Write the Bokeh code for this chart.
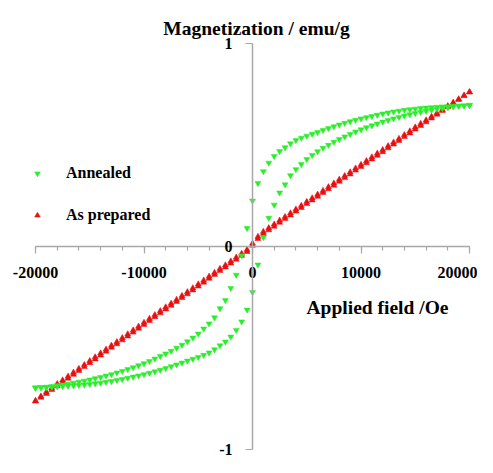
from bokeh.plotting import figure
from bokeh.models import Range1d, FixedTicker, Label, Legend, LegendItem, ColumnDataSource
from bokeh.embed import file_html
from bokeh.resources import INLINE

# ---------------- data ----------------
field_oe = [-20000, -19500, -19000, -18500, -18000, -17500, -17000, -16500, -16000, -15500,
            -15000, -14500, -14000, -13500, -13000, -12500, -12000, -11500, -11000, -10500,
            -10000, -9500, -9000, -8500, -8000, -7500, -7000, -6500, -6000, -5500,
            -5000, -4500, -4000, -3500, -3000, -2500, -2000, -1500, -1000, -500,
            0, 500, 1000, 1500, 2000, 2500, 3000, 3500, 4000, 4500,
            5000, 5500, 6000, 6500, 7000, 7500, 8000, 8500, 9000, 9500,
            10000, 10500, 11000, 11500, 12000, 12500, 13000, 13500, 14000, 14500,
            15000, 15500, 16000, 16500, 17000, 17500, 18000, 18500, 19000, 19500, 20000]

# Annealed: branch coming down from +20000 Oe
annealed_down = [-0.697, -0.694, -0.692, -0.689, -0.685, -0.681, -0.677, -0.672, -0.667, -0.662,
                 -0.656, -0.650, -0.644, -0.637, -0.630, -0.622, -0.614, -0.605, -0.596, -0.586,
                 -0.576, -0.565, -0.553, -0.541, -0.528, -0.515, -0.500, -0.485, -0.468, -0.450,
                 -0.430, -0.405, -0.380, -0.350, -0.305, -0.265, -0.205, -0.140, -0.045, 0.090,
                 0.225, 0.312, 0.370, 0.412, 0.445, 0.469, 0.488, 0.507, 0.523, 0.535,
                 0.545, 0.554, 0.563, 0.573, 0.582, 0.591, 0.600, 0.608, 0.616, 0.623,
                 0.630, 0.636, 0.642, 0.648, 0.654, 0.659, 0.664, 0.668, 0.672, 0.675,
                 0.678, 0.681, 0.683, 0.685, 0.687, 0.689, 0.690, 0.692, 0.693, 0.694, 0.695]

# Annealed: branch going up from -20000 Oe
annealed_up = [-0.695, -0.694, -0.693, -0.692, -0.690, -0.689, -0.687, -0.685, -0.683, -0.681,
               -0.678, -0.675, -0.672, -0.668, -0.664, -0.659, -0.654, -0.648, -0.642, -0.636,
               -0.630, -0.623, -0.616, -0.608, -0.600, -0.591, -0.582, -0.573, -0.563, -0.554,
               -0.545, -0.535, -0.523, -0.507, -0.488, -0.469, -0.445, -0.412, -0.370, -0.312,
               -0.225, -0.090, 0.045, 0.140, 0.205, 0.265, 0.305, 0.350, 0.380, 0.405,
               0.430, 0.450, 0.468, 0.485, 0.500, 0.515, 0.528, 0.541, 0.553, 0.565,
               0.576, 0.586, 0.596, 0.605, 0.614, 0.622, 0.630, 0.637, 0.644, 0.650,
               0.656, 0.662, 0.667, 0.672, 0.677, 0.681, 0.685, 0.689, 0.692, 0.694, 0.697]

# As prepared: two nearly overlapping branches
prepared_up = [-0.763, -0.744, -0.725, -0.706, -0.687, -0.669, -0.650, -0.631, -0.612, -0.593,
               -0.574, -0.555, -0.536, -0.517, -0.498, -0.480, -0.461, -0.442, -0.423, -0.404,
               -0.385, -0.366, -0.347, -0.328, -0.309, -0.291, -0.272, -0.253, -0.234, -0.215,
               -0.196, -0.177, -0.158, -0.139, -0.120, -0.102, -0.083, -0.064, -0.045, -0.026,
               0.005, 0.038, 0.063, 0.081, 0.099, 0.118, 0.136, 0.154, 0.173, 0.191,
               0.210, 0.228, 0.246, 0.265, 0.283, 0.301, 0.320, 0.338, 0.356, 0.375,
               0.393, 0.411, 0.430, 0.448, 0.466, 0.485, 0.503, 0.521, 0.540, 0.558,
               0.577, 0.595, 0.613, 0.632, 0.650, 0.668, 0.687, 0.705, 0.723, 0.742, 0.760]

prepared_down = [-0.760, -0.738, -0.717, -0.697, -0.677, -0.659, -0.640, -0.621, -0.602, -0.583,
                 -0.564, -0.545, -0.526, -0.507, -0.488, -0.470, -0.451, -0.432, -0.413, -0.394,
                 -0.375, -0.356, -0.337, -0.318, -0.299, -0.281, -0.262, -0.243, -0.224, -0.205,
                 -0.186, -0.167, -0.148, -0.129, -0.110, -0.092, -0.073, -0.054, -0.035, -0.016,
                 0.015, 0.048, 0.073, 0.091, 0.109, 0.128, 0.146, 0.164, 0.183, 0.201,
                 0.220, 0.238, 0.256, 0.275, 0.293, 0.311, 0.330, 0.348, 0.366, 0.385,
                 0.403, 0.421, 0.440, 0.458, 0.476, 0.495, 0.513, 0.531, 0.550, 0.568,
                 0.587, 0.605, 0.622, 0.640, 0.657, 0.674, 0.692, 0.709, 0.726, 0.744, 0.761]

x_ticks = [-20000, -10000, 0, 10000, 20000]
x_tick_labels = ["-20000", "-10000", "0", "10000", "20000"]
x_minor_ticks = [-20000, -18000, -16000, -14000, -12000, -10000, -8000, -6000, -4000, -2000,
                 0, 2000, 4000, 6000, 8000, 10000, 12000, 14000, 16000, 18000, 20000]
y_ticks = [-1, 0, 1]
y_tick_labels = ["-1", "0", "1"]

series_names = ["Annealed", "As prepared"]
title_text = "Magnetization / emu/g"
xlabel_text = "Applied field /Oe"

# ---------------- styling ----------------
FONT = "Liberation Serif"
GREEN = "#2aee2a"
RED = "#e81010"
AXIS = "#a8a8a8"

p = figure(width=477, height=457, output_backend="svg", toolbar_location=None,
           x_range=Range1d(-23226, 20737), y_range=Range1d(-1.0394, 1.2118),
           min_border=0, min_border_left=0, min_border_right=0,
           min_border_top=0, min_border_bottom=0)
p.outline_line_color = None
p.grid.visible = False
p.background_fill_color = "white"
p.border_fill_color = "white"

src_ann = ColumnDataSource(dict(x=field_oe + field_oe, y=annealed_down + annealed_up))
src_prep = ColumnDataSource(dict(x=field_oe + field_oe, y=prepared_down + prepared_up))

r_prep = p.scatter("x", "y", source=src_prep, marker="triangle", size=6,
                   fill_color=RED, line_color=RED, line_width=0.5)
r_ann = p.scatter("x", "y", source=src_ann, marker="inverted_triangle", size=6,
                  fill_color=GREEN, line_color=GREEN, line_width=0.5)

# axes crossing at the origin
xa = p.xaxis[0]
ya = p.yaxis[0]
xa.fixed_location = 0
ya.fixed_location = 0
xa.bounds = (x_ticks[0], x_ticks[-1])
ya.bounds = (y_ticks[0], y_ticks[-1])
xa.ticker = FixedTicker(ticks=x_ticks, minor_ticks=x_minor_ticks)
ya.ticker = FixedTicker(ticks=y_ticks, minor_ticks=[])
xa.major_label_overrides = {t: s for t, s in zip(x_ticks, x_tick_labels)}
ya.major_label_overrides = {t: s for t, s in zip(y_ticks, y_tick_labels)}
for ax in (xa, ya):
    ax.axis_line_color = AXIS
    ax.axis_line_width = 1.5
    ax.major_tick_line_color = AXIS
    ax.major_tick_line_width = 1.2
    ax.minor_tick_line_color = AXIS
    ax.minor_tick_line_width = 1.2
    ax.major_tick_in = 0
    ax.major_tick_out = 7
    ax.minor_tick_in = 0
    ax.minor_tick_out = 4
    ax.major_label_text_font = FONT
    ax.major_label_text_font_style = "bold"
    ax.major_label_text_font_size = "16px"
    ax.major_label_text_color = "black"
xa.major_label_standoff = 14
ya.major_label_standoff = 13

p.add_layout(Label(x=370, y=1.074, text=title_text, text_align="center",
                   text_baseline="alphabetic", text_font=FONT, text_font_style="bold",
                   text_font_size="19.5px", text_color="black"))
p.add_layout(Label(x=4980, y=-0.30, text=xlabel_text, text_align="left",
                   text_baseline="alphabetic", text_font=FONT, text_font_style="bold",
                   text_font_size="19.5px", text_color="black"))

legend = Legend(items=[LegendItem(label=series_names[0], renderers=[r_ann]),
                       LegendItem(label=series_names[1], renderers=[r_prep])],
                location=(30, 232), orientation="vertical",
                glyph_width=14, glyph_height=14, label_height=20, spacing=22,
                label_standoff=22, padding=0, margin=0,
                border_line_color=None, background_fill_alpha=0,
                label_text_font=FONT, label_text_font_style="bold",
                label_text_font_size="16px", label_text_color="black")
p.add_layout(legend, "center")

open("out.html", "w").write(file_html(p, INLINE))
